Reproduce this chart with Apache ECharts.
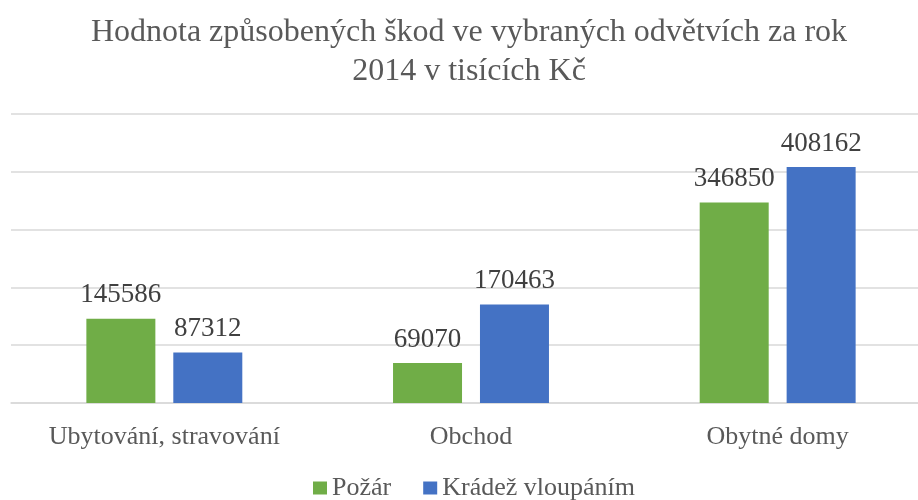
<meta charset="UTF-8">
<script src="https://cdn.jsdelivr.net/npm/echarts@6/dist/echarts.min.js"></script>
<style>
    html, body { margin: 0; padding: 0; background: #fff; }
</style>
<div id="main" style="width: 918px; height: 500px;"></div>
<script>
    var categories = ['Ubytování, stravování', 'Obchod', 'Obytné domy'];
    var fireValues = [145586, 69070, 346850];
    var burglaryValues = [87312, 170463, 408162];
    var seriesNames = ['Požár', 'Krádež vloupáním'];

    var serif = 'Liberation Serif';
    var mychart = echarts.init(document.getElementById('main'));

    var labelStyle = {
        show: true,
        position: 'top',
        distance: 10,
        fontFamily: serif,
        fontSize: 27,
        color: '#404040'
    };

    option = {
        animation: false,
        title: {
            text: 'Hodnota způsobených škod ve vybraných odvětvích za rok\n2014 v tisících Kč',
            left: 464,
            top: 8,
            textAlign: 'center',
            textStyle: {
                fontFamily: serif,
                fontSize: 32,
                fontWeight: 'normal',
                color: '#595959',
                lineHeight: 39
            }
        },
        legend: {
            top: 470,
            left: 308,
            itemWidth: 14,
            itemHeight: 13,
            itemGap: 32,
            icon: 'rect',
            textStyle: {
                fontFamily: serif,
                fontSize: 26,
                color: '#595959'
            },
            data: seriesNames
        },
        grid: {
            left: 11,
            width: 920,
            top: 114,
            bottom: 97,
            outerBoundsMode: 'none'
        },
        xAxis: {
            type: 'category',
            data: categories,
            axisTick: { show: false },
            axisLine: { lineStyle: { color: '#D9D9D9', width: 1.5 } },
            axisLabel: {
                margin: 21,
                fontFamily: serif,
                fontSize: 26,
                color: '#595959'
            }
        },
        yAxis: {
            type: 'value',
            min: 0,
            max: 500000,
            interval: 100000,
            axisLabel: { show: false },
            axisLine: { show: false },
            axisTick: { show: false },
            splitLine: { lineStyle: { color: '#D9D9D9', width: 1.5 } }
        },
        series: [
            {
                name: seriesNames[0],
                type: 'bar',
                data: fireValues,
                barWidth: 69,
                barGap: '26%',
                itemStyle: { color: '#70AD47' },
                label: labelStyle
            },
            {
                name: seriesNames[1],
                type: 'bar',
                data: burglaryValues,
                barWidth: 69,
                barGap: '26%',
                itemStyle: { color: '#4472C4' },
                label: labelStyle
            }
        ]
    };
    mychart.setOption(option);
</script>
